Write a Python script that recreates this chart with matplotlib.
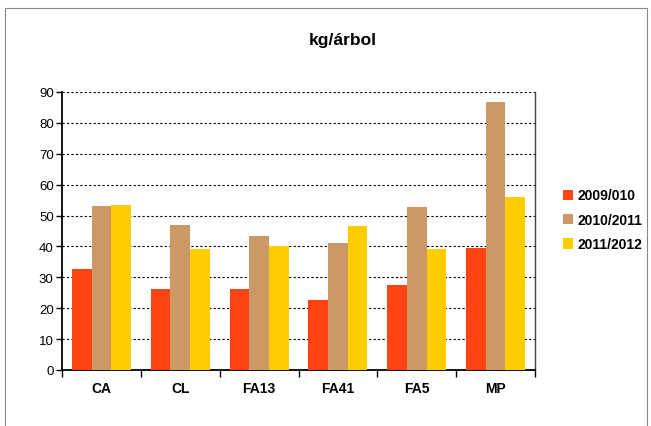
import matplotlib
matplotlib.use("Agg")
import matplotlib.pyplot as plt
from matplotlib.patches import Rectangle
import numpy as np

plt.rcParams['font.family'] = ['Liberation Sans', 'DejaVu Sans']

categories = ["CA", "CL", "FA13", "FA41", "FA5", "MP"]
series_names = ["2009/010", "2010/2011", "2011/2012"]
s2009 = [32.7, 26.2, 26.2, 22.7, 27.5, 39.5]
s2010 = [53.1, 46.9, 43.4, 41.1, 52.8, 86.8]
s2011 = [53.4, 39.2, 40.1, 46.6, 39.2, 56.0]
colors = ["#FF4411", "#CC9966", "#FFCC00"]
yticks = [0, 10, 20, 30, 40, 50, 60, 70, 80, 90]

fig = plt.figure(figsize=(6.51, 4.27), dpi=100)
fig.patches.append(Rectangle((5/651, -0.05), 642/651, 1 - 9/427 + 0.05,
                             transform=fig.transFigure, fill=False,
                             edgecolor="#888888", linewidth=0.8))

ax = fig.add_axes([62/651, 1 - 371/427, 473/651, 278/427])
x = np.arange(len(categories))
w = 0.25
for i, (vals, c, name) in enumerate(zip([s2009, s2010, s2011], colors, series_names)):
    ax.bar(x + (i - 1) * w, vals, width=w, color=c, label=name, zorder=3)

ax.set_xlim(-0.5, len(categories) - 0.5)
ax.set_ylim(0, 90)
ax.set_yticks(yticks)
ax.set_yticklabels([str(t) for t in yticks], fontsize=9.5)
ax.set_xticks(x)
ax.set_xticklabels(categories, fontsize=10, fontweight="bold")
ax.tick_params(axis="x", length=0, pad=8)
ax.set_xticks(np.arange(len(categories) + 1) - 0.5, minor=True)
ax.tick_params(axis="x", which="minor", length=5, width=1, color="black")
ax.tick_params(axis="y", length=4, width=1, color="black", pad=2)
ax.yaxis.grid(True, linestyle=(0, (2, 2)), color="black", linewidth=0.8, zorder=0)
for s in ["left", "bottom"]:
    ax.spines[s].set_linewidth(1.3)
ax.spines["right"].set_linewidth(1.0)
ax.spines["right"].set_color("#444444")
ax.spines["top"].set_visible(False)

fig.text(343/651, 1 - 41/427, "kg/árbol", ha="center", va="center",
         fontsize=12.5, fontweight="bold")

leg = fig.legend(loc="upper left", bbox_to_anchor=(550/651, 1 - 177/427),
                 frameon=False, handlelength=0.75, handleheight=0.75,
                 handletextpad=0.35, labelspacing=0.75,
                 prop={"weight": "bold", "size": 10})

fig.savefig("out.png", dpi=100)
